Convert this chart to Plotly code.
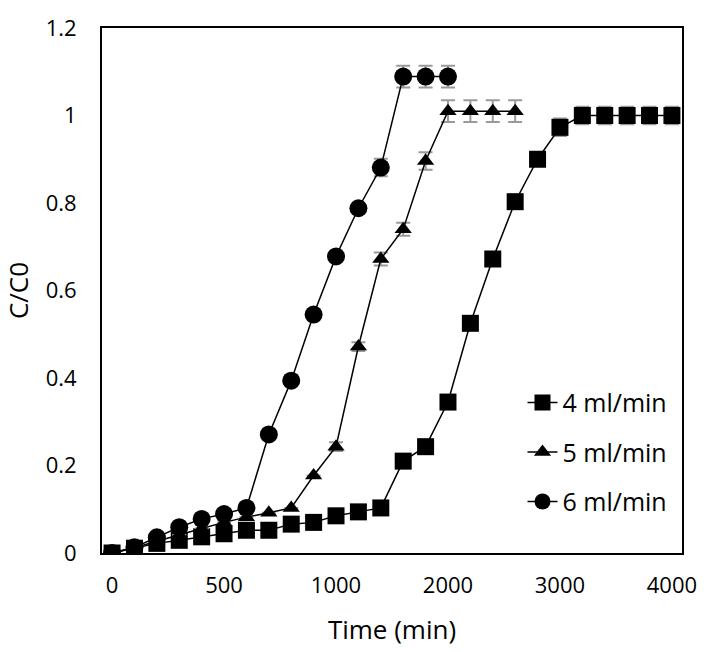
import plotly.graph_objects as go

# time points (min) - equally spaced categories like in the original Excel chart
time_min = [0, 100, 200, 300, 400, 500, 600, 700, 800, 900, 1000,
            1200, 1400, 1600, 1800, 2000, 2200, 2400, 2600, 2800, 3000,
            3200, 3400, 3600, 3800, 4000]
x_ticks = [0, 500, 1000, 2000, 3000, 4000]
y_ticks = [0, 0.2, 0.4, 0.6, 0.8, 1, 1.2]

c_4ml = [0.0, 0.011, 0.022, 0.029, 0.037, 0.044, 0.052, 0.052, 0.066, 0.07, 0.085,
         0.094, 0.103, 0.21, 0.243, 0.345, 0.525, 0.672, 0.803, 0.90, 0.973,
         1.0, 1.0, 1.0, 1.0, 1.0]
err_4ml = [0, 0, 0, 0, 0, 0, 0, 0, 0, 0, 0,
           0, 0, 0, 0, 0, 0, 0, 0, 0, 0.02,
           0.02, 0.02, 0.02, 0.02, 0.02]

c_5ml = [0.0, 0.012, 0.027, 0.042, 0.056, 0.07, 0.082, 0.092, 0.103, 0.177, 0.243,
         0.472, 0.672, 0.74, 0.896, 1.01, 1.01, 1.01, 1.01]
err_5ml = [0, 0, 0, 0, 0, 0, 0, 0, 0, 0, 0.01,
           0.01, 0.015, 0.015, 0.02, 0.025, 0.025, 0.025, 0.025]

c_6ml = [0.0, 0.013, 0.036, 0.059, 0.078, 0.089, 0.103, 0.271, 0.394, 0.545, 0.678,
         0.788, 0.881, 1.089, 1.089, 1.089]
err_6ml = [0, 0, 0, 0, 0, 0, 0, 0, 0, 0, 0.01,
           0.01, 0.02, 0.025, 0.025, 0.025]

cats = [str(t) for t in time_min]

fig = go.Figure()

series = [
    ('4 ml/min', c_4ml, err_4ml, 'square', 17),
    ('5 ml/min', c_5ml, err_5ml, 'triangle-up', 15),
    ('6 ml/min', c_6ml, err_6ml, 'circle', 18),
]
for name, vals, errs, sym, size in series:
    fig.add_trace(go.Scatter(
        x=cats[:len(vals)], y=vals, name=name, legendgroup=name,
        mode='lines+markers',
        line=dict(color='black', width=1.5),
        marker=dict(symbol=sym, size=size, color='black'),
        error_y=dict(type='data', array=errs, visible=True,
                     color='#9a9a9a', thickness=2, width=7),
    ))

family = 'Open Sans, Noto Sans, sans-serif'

fig.update_layout(
    width=709, height=652,
    margin=dict(l=102, r=21, t=13, b=97),
    plot_bgcolor='white', paper_bgcolor='white',
    font=dict(family=family, size=22, color='black'),
    showlegend=True,
    legend=dict(x=0.725, y=0.33, xanchor='left', yanchor='top',
                bgcolor='rgba(0,0,0,0)', tracegroupgap=14,
                font=dict(family=family, size=25, color='black')),
)
fig.update_xaxes(
    type='category', categoryorder='array', categoryarray=cats,
    tickvals=[str(t) for t in x_ticks], ticktext=[str(t) for t in x_ticks],
    range=[-0.45, 25.45],
    showline=True, linecolor='black', linewidth=2, mirror=True,
    showgrid=False, ticks='', ticklabelstandoff=12, ticklabeloverflow='allow',
    title=dict(text='Time (min)', standoff=22, font=dict(size=26)),
)
fig.update_yaxes(
    range=[0, 1.2], tickvals=y_ticks, ticktext=[f'{v:g}' for v in y_ticks],
    showline=True, linecolor='black', linewidth=2, mirror=True,
    showgrid=False, zeroline=False, ticks='', ticklabelstandoff=19,
    ticklabeloverflow='allow',
    title=dict(text='C/C0', standoff=12, font=dict(size=26)),
)

# no body margin, so the figure sits at the page's top-left corner
fig.write_html("out.html", config={'displayModeBar': False},
               post_script="document.body.style.margin='0';")
